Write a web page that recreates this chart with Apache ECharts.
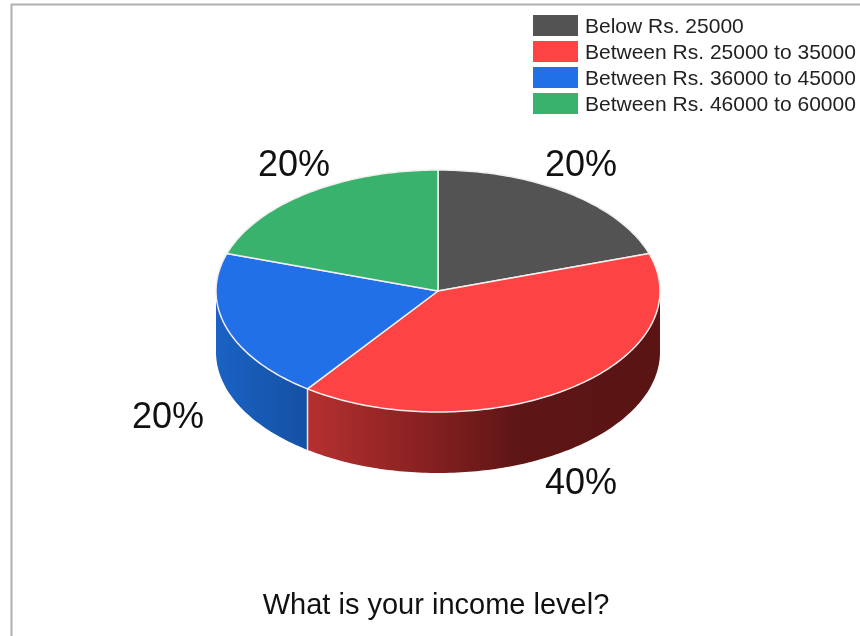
<!DOCTYPE html>
<html>
<head>
<meta charset="utf-8">
<style>html,body{margin:0;padding:0;background:#fff}#c{width:860px;height:636px}</style>
<script src="https://cdn.jsdelivr.net/npm/echarts@6/dist/echarts.min.js"></script>
</head>
<body>
<div id="c"></div>
<script>
const categories = ['Below Rs. 25000','Between Rs. 25000 to 35000','Between Rs. 36000 to 45000','Between Rs. 46000 to 60000'];
const shares = [20,40,20,20];
const topColors = ['#535353','#FD4343','#2270E8','#38B26D'];
const sideStops = [
  [{offset:0,color:'#333333'},{offset:1,color:'#333333'}],
  [{offset:0,color:'#B53030'},{offset:0.3,color:'#8C2222'},{offset:0.6,color:'#5E1515'},{offset:1,color:'#5A1414'}],
  [{offset:0,color:'#1A62C4'},{offset:1,color:'#1451A3'}],
  [{offset:0,color:'#24754A'},{offset:1,color:'#24754A'}]
];
const titleText = 'What is your income level?';

const CX = 438, CY = 291, RX = 222, RY = 121, DEPTH = 61;
const LABEL_OFFSETS = [[143,-125],[143,193],[-270,127],[-144,-125]];
const total = shares.reduce((a,b)=>a+b,0);
const px = d => CX + RX*Math.sin(d*Math.PI/180);
const py = d => CY - RY*Math.cos(d*Math.PI/180);

function arcPoints(a,b,dy){
  const pts=[]; const n=Math.max(2,Math.ceil(Math.abs(b-a)));
  for(let i=0;i<=n;i++){const d=a+(b-a)*i/n; pts.push([px(d),py(d)+dy]);}
  return pts;
}
function slice(idx){
  return function(params,api){
    const before = shares.slice(0,idx).reduce((a,b)=>a+b,0);
    const start = before/total*360;
    const end = start + api.value(0)/total*360;
    const children=[];
    const s=Math.max(start,90), e=Math.min(end,270);
    if(e>s){
      const pts=arcPoints(s,e,0).concat(arcPoints(e,s,DEPTH));
      const x0=Math.min(px(s),px(e)), x1=Math.max(px(s),px(e));
      children.push({type:'polygon',z2:1,shape:{points:pts},style:{
        fill:new echarts.graphic.LinearGradient(x0,0,x1,0,sideStops[idx],true)}});
      if(start>=90&&start<=270){
        children.push({type:'line',z2:2,shape:{x1:px(start),y1:py(start),x2:px(start),y2:py(start)+DEPTH},
          style:{stroke:'#E8E8E8',lineWidth:1.5}});
      }
    }
    children.push({type:'polygon',z2:3,shape:{points:[[CX,CY]].concat(arcPoints(start,end,0))},
      style:{fill:topColors[idx],stroke:'#F4EFEF',lineWidth:1.5,lineJoin:'round'}});
    children.push({type:'text',z2:4,x:CX+LABEL_OFFSETS[idx][0],y:CY+LABEL_OFFSETS[idx][1],
      style:{text:api.value(0)+'%',fill:'#111',fontSize:36,fontFamily:'Liberation Sans',align:'center',verticalAlign:'middle'}});
    return {type:'group',children};
  };
}
const series = categories.map((name,i)=>({
  type:'custom',name,coordinateSystem:'none',renderItem:slice(i),
  data:[[shares[i]]],silent:true,animation:false,clip:false,
  itemStyle:{color:topColors[i]}
}));
const chart = echarts.init(document.getElementById('c'),null,{renderer:'canvas'});
chart.setOption({
  animation:false,
  backgroundColor:'#fff',
  title:{text:titleText,left:436,top:591,textAlign:'center',padding:0,
    textStyle:{fontSize:29,fontWeight:'normal',color:'#111',fontFamily:'Liberation Sans'}},
  legend:{data:categories,left:533,top:15,orient:'vertical',icon:'rect',itemWidth:45,itemHeight:21,itemGap:3,padding:0,
    selectedMode:false,formatter:'{t|{name}}',
    textStyle:{color:'#222',fontFamily:'Liberation Sans',
      rich:{t:{fontSize:21,color:'#222',fontFamily:'Liberation Sans',padding:[4,0,0,2]}}}},
  graphic:[{type:'rect',z:-1,silent:true,shape:{x:11.5,y:4.5,width:900,height:700},style:{fill:'none',stroke:'#B0B0B0',lineWidth:2}}],
  series
});
</script>
</body>
</html>
